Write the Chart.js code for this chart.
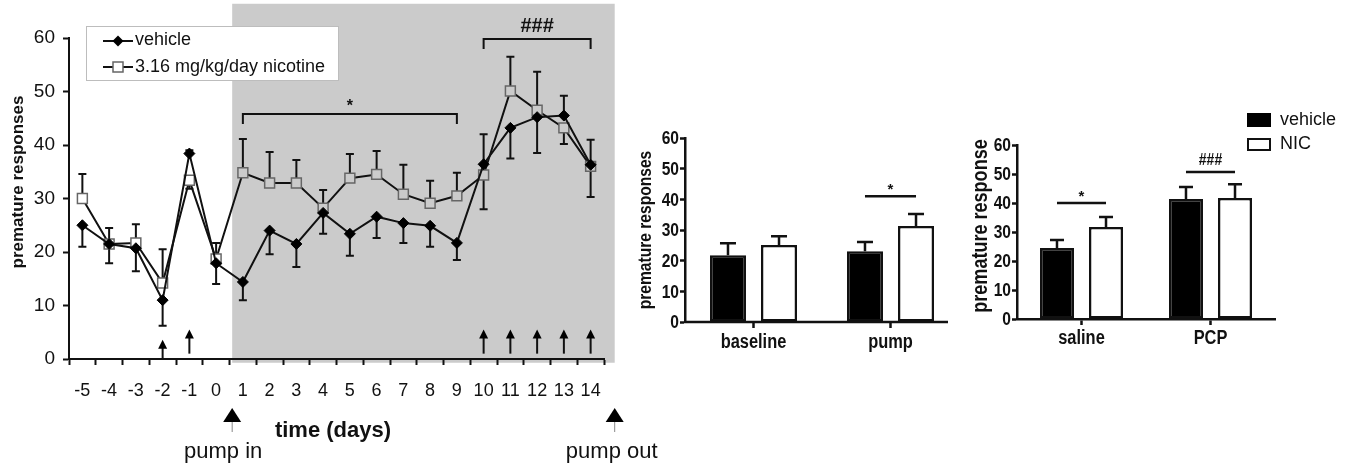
<!DOCTYPE html>
<html>
<head>
<meta charset="utf-8">
<script src="https://cdn.jsdelivr.net/npm/chart.js@4.4.0/dist/chart.umd.min.js"></script>
<style>
  html, body { margin: 0; padding: 0; background: #fff; }
  body { width: 1355px; height: 470px; position: relative; overflow: hidden; }
  canvas { position: absolute; top: 0; }
  #timeChart { left: 0; }
  #pumpChart { left: 630px; }
  #pcpChart { left: 960px; }
</style>
</head>
<body>
<canvas id="timeChart" width="680" height="470"></canvas>
<canvas id="pumpChart" width="330" height="470"></canvas>
<canvas id="pcpChart" width="395" height="470"></canvas>
<script>
// Time course (days relative to pump implant)
const days = [-5, -4, -3, -2, -1, 0, 1, 2, 3, 4, 5, 6, 7, 8, 9, 10, 11, 12, 13, 14];
const vehicleMean = [25, 21.5, 20.7, 11, 38.4, 17.9, 14.4, 24, 21.5, 27.3, 23.4, 26.6, 25.4, 24.9, 21.7, 36.4, 43.2, 45.2, 45.5, 36.3];
const vehicleSem = [4, 3.6, 4.3, 4.8, 0.6, 3.9, 3.4, 4.4, 4.3, 3.9, 4.1, 4, 3.7, 3.9, 3.2, 5.6, 5.7, 6.7, 3.7, 4.7];
const nicotineMean = [30, 21.5, 21.7, 14.2, 33.4, 18.7, 34.8, 32.9, 32.9, 28.2, 33.8, 34.5, 30.8, 29.1, 30.5, 34.4, 50.1, 46.5, 43.2, 36];
const nicotineSem = [4.6, 3, 3.5, 6.3, 1.6, 3, 6.3, 5.8, 4.3, 3.4, 4.5, 4.4, 5.5, 4.2, 4.3, 6.4, 6.4, 7.2, 3, 5.7];
const injectionDays = [-2, -1, 10, 11, 12, 13, 14];
const pumpInDay = 0.6;
const pumpOutDay = 14.9;
const timeSig = [
  { from: 1, to: 9, level: 45.8, label: '*' },
  { from: 10, to: 14, level: 59.8, label: '###' }
];

// Bar panels
const pumpPhases = ['baseline', 'pump'];
const pumpVehicle = [21.8, 23.1];
const pumpVehicleSem = [3.9, 3.0];
const pumpNicotine = [25.1, 31.3];
const pumpNicotineSem = [2.9, 3.9];
const pumpSig = [{ index: 1, level: 41, label: '*' }];

const pcpGroups = ['saline', 'PCP'];
const pcpVehicle = [24.5, 41.4];
const pcpVehicleSem = [2.7, 4.1];
const pcpNicotine = [31.7, 41.7];
const pcpNicotineSem = [3.5, 4.8];
const pcpSig = [
  { index: 0, level: 40, label: '*' },
  { index: 1, level: 50.7, label: '###' }
];

const sans = '"Liberation Sans", Arial, Helvetica, sans-serif';
const squeeze = 0.82; // no condensed font installed, so bar panel text is squeezed
const ink = '#111';
const shadeColor = '#cbcbcb';

function dayPixel(x, d) {
  const p0 = x.getPixelForValue(0);
  const step = x.getPixelForValue(1) - p0;
  return p0 + (d - days[0]) * step;
}

function arrowHead(ctx, cx, tipY, halfW, h) {
  ctx.beginPath();
  ctx.moveTo(cx, tipY);
  ctx.lineTo(cx + halfW, tipY + h);
  ctx.lineTo(cx - halfW, tipY + h);
  ctx.closePath();
  ctx.fill();
}

// text drawn narrow (bold), used for the bar panels
function narrowText(ctx, text, x, y, size, align, rotate) {
  ctx.save();
  ctx.translate(x, y);
  if (rotate) ctx.rotate(-Math.PI / 2);
  ctx.scale(squeeze, 1);
  ctx.font = 'bold ' + size + 'px ' + sans;
  ctx.fillStyle = ink;
  ctx.textAlign = align;
  ctx.textBaseline = 'middle';
  ctx.fillText(text, 0, 0);
  ctx.restore();
}

// Shading, error bars, legend and labels for the time course
const timeAnnotations = {
  id: 'timeAnnotations',
  beforeDraw(chart) {
    const { ctx, scales: { x, y } } = chart;
    const x0 = dayPixel(x, pumpInDay);
    const x1 = dayPixel(x, pumpOutDay);
    const top = y.getPixelForValue(66.4);
    const bottom = y.getPixelForValue(-0.7);
    ctx.save();
    ctx.fillStyle = shadeColor;
    ctx.fillRect(x0, top, x1 - x0, bottom - top);
    ctx.restore();
  },
  beforeDatasetsDraw(chart) {
    const { ctx, scales: { y } } = chart;
    const vMeta = chart.getDatasetMeta(0);
    const nMeta = chart.getDatasetMeta(1);
    ctx.save();
    ctx.strokeStyle = ink;
    ctx.lineWidth = 2;
    days.forEach((d, i) => {
      const vDown = vehicleMean[i] <= nicotineMean[i];
      const bars = [
        [vMeta.data[i], vDown ? vehicleMean[i] - vehicleSem[i] : vehicleMean[i] + vehicleSem[i]],
        [nMeta.data[i], vDown ? nicotineMean[i] + nicotineSem[i] : nicotineMean[i] - nicotineSem[i]]
      ];
      bars.forEach(([pt, end]) => {
        const ey = y.getPixelForValue(end);
        ctx.beginPath();
        ctx.moveTo(pt.x, pt.y);
        ctx.lineTo(pt.x, ey);
        ctx.moveTo(pt.x - 4, ey);
        ctx.lineTo(pt.x + 4, ey);
        ctx.stroke();
      });
    });
    ctx.restore();
  },
  afterDraw(chart) {
    const { ctx, scales: { x, y } } = chart;
    ctx.save();

    // legend box
    ctx.fillStyle = '#fff';
    ctx.fillRect(86, 26, 252, 54);
    ctx.strokeStyle = '#bdbdbd';
    ctx.lineWidth = 1;
    ctx.strokeRect(86.5, 26.5, 252, 54);
    ctx.strokeStyle = ink;
    ctx.lineWidth = 2;
    [41, 67].forEach(ly => {
      ctx.beginPath();
      ctx.moveTo(103, ly);
      ctx.lineTo(133, ly);
      ctx.stroke();
    });
    ctx.fillStyle = '#000';
    ctx.beginPath();
    ctx.moveTo(118, 35.5); ctx.lineTo(123.5, 41); ctx.lineTo(118, 46.5); ctx.lineTo(112.5, 41);
    ctx.closePath();
    ctx.fill();
    ctx.fillStyle = '#fff';
    ctx.fillRect(113, 62, 10, 10);
    ctx.strokeStyle = '#666';
    ctx.lineWidth = 1.5;
    ctx.strokeRect(113, 62, 10, 10);
    ctx.fillStyle = ink;
    ctx.font = '18px ' + sans;
    ctx.textAlign = 'left';
    ctx.textBaseline = 'middle';
    ctx.fillText(chart.data.datasets[0].label, 135, 40);
    ctx.fillText(chart.data.datasets[1].label, 135, 67);

    // significance brackets
    ctx.strokeStyle = ink;
    ctx.lineWidth = 2;
    timeSig.forEach(s => {
      const xa = dayPixel(x, s.from);
      const xb = dayPixel(x, s.to);
      const yl = y.getPixelForValue(s.level);
      ctx.beginPath();
      ctx.moveTo(xa, yl + 10); ctx.lineTo(xa, yl); ctx.lineTo(xb, yl); ctx.lineTo(xb, yl + 10);
      ctx.stroke();
      ctx.textAlign = 'center';
      ctx.textBaseline = 'alphabetic';
      if (s.label === '*') {
        ctx.font = 'bold 16px ' + sans;
        ctx.fillText(s.label, (xa + xb) / 2, yl - 3);
      } else {
        ctx.font = 'bold 20px ' + sans;
        ctx.fillText(s.label, (xa + xb) / 2, yl - 7);
      }
    });

    // injection arrows
    ctx.fillStyle = '#000';
    injectionDays.forEach(d => {
      const ax = dayPixel(x, d);
      const tip = y.getPixelForValue(d === -2 ? 3.6 : 5.5);
      const tail = y.getPixelForValue(d === -2 ? 0 : 1);
      ctx.beginPath();
      ctx.moveTo(ax, tip + 6);
      ctx.lineTo(ax, tail);
      ctx.stroke();
      arrowHead(ctx, ax, tip, 4.5, 9);
    });

    // pump in / pump out markers
    const pin = dayPixel(x, pumpInDay);
    const pout = dayPixel(x, pumpOutDay);
    [pin, pout].forEach(px => {
      ctx.fillStyle = '#000';
      arrowHead(ctx, px, 408, 9, 14);
      ctx.strokeStyle = '#888';
      ctx.lineWidth = 1;
      ctx.beginPath();
      ctx.moveTo(px, 422);
      ctx.lineTo(px, 432);
      ctx.stroke();
    });
    ctx.fillStyle = ink;
    ctx.font = '22px ' + sans;
    ctx.textAlign = 'center';
    ctx.textBaseline = 'alphabetic';
    ctx.fillText('pump in', pin - 9, 458);
    ctx.fillText('pump out', pout - 3, 458);

    ctx.font = 'bold 22px ' + sans;
    ctx.textBaseline = 'middle';
    ctx.fillText('time (days)', 333, 431);

    // y title
    ctx.translate(18, 182);
    ctx.rotate(-Math.PI / 2);
    ctx.font = 'bold 17px ' + sans;
    ctx.fillText('premature responses', 0, 0);
    ctx.restore();
  }
};

new Chart(document.getElementById('timeChart'), {
  type: 'line',
  data: {
    labels: days.map(String),
    datasets: [
      {
        label: 'vehicle',
        data: vehicleMean,
        borderColor: ink,
        borderWidth: 2,
        pointStyle: 'rectRot',
        pointRadius: 5.5,
        pointBackgroundColor: '#000',
        pointBorderColor: '#000',
        pointBorderWidth: 1,
        tension: 0
      },
      {
        label: '3.16 mg/kg/day nicotine',
        data: nicotineMean,
        borderColor: ink,
        borderWidth: 2,
        pointStyle: 'rect',
        pointRadius: 7,
        pointBackgroundColor: days.map(d => (d > pumpInDay && d < pumpOutDay ? shadeColor : '#fff')),
        pointBorderColor: '#666',
        pointBorderWidth: 1.5,
        tension: 0
      }
    ]
  },
  options: {
    responsive: false,
    animation: false,
    layout: { padding: { left: 0, right: 76, top: 38, bottom: 0 } },
    plugins: { legend: { display: false }, tooltip: { enabled: false } },
    scales: {
      x: {
        type: 'category',
        offset: true,
        grid: { offset: true, drawOnChartArea: false, tickLength: 6, tickWidth: 2, tickColor: ink },
        border: { color: ink, width: 2 },
        ticks: { font: { family: sans, size: 18 }, color: ink, padding: 15, autoSkip: false, maxRotation: 0 },
        afterFit: axis => { axis.height = 111; }
      },
      y: {
        min: 0,
        max: 60,
        grid: { drawOnChartArea: false, tickLength: 6, tickWidth: 2, tickColor: ink },
        border: { color: ink, width: 2 },
        ticks: { stepSize: 10, font: { family: sans, size: 19 }, color: ink, padding: 8 },
        afterFit: axis => { axis.width = 69; }
      }
    }
  },
  plugins: [timeAnnotations]
});

// Error bars, significance lines, tick labels and titles for the bar panels
function barAnnotations(id, sems, sigs, p) {
  return {
    id,
    afterDatasetsDraw(chart) {
      const { ctx, chartArea, scales: { x, y } } = chart;
      ctx.save();
      ctx.strokeStyle = ink;
      ctx.lineWidth = 2.5;
      sems.forEach((sem, di) => {
        const meta = chart.getDatasetMeta(di);
        meta.data.forEach((bar, i) => {
          const v = chart.data.datasets[di].data[i];
          const top = y.getPixelForValue(v + sem[i]);
          ctx.beginPath();
          ctx.moveTo(bar.x, bar.y);
          ctx.lineTo(bar.x, top);
          ctx.moveTo(bar.x - p.capHalf, top);
          ctx.lineTo(bar.x + p.capHalf, top);
          ctx.stroke();
        });
      });
      const m0 = chart.getDatasetMeta(0);
      const m1 = chart.getDatasetMeta(1);
      ctx.fillStyle = ink;
      ctx.textAlign = 'center';
      ctx.textBaseline = 'alphabetic';
      sigs.forEach(s => {
        const xa = m0.data[s.index].x;
        const xb = m1.data[s.index].x;
        const yl = y.getPixelForValue(s.level);
        ctx.beginPath();
        ctx.moveTo(xa, yl);
        ctx.lineTo(xb, yl);
        ctx.stroke();
        if (s.label === '*') {
          ctx.font = 'bold 15px ' + sans;
          ctx.fillText(s.label, (xa + xb) / 2, yl - 2);
        } else {
          narrowText(ctx, s.label, (xa + xb) / 2, yl - 12, 17, 'center');
        }
      });
      if (p.baselineEnd) {
        ctx.beginPath();
        ctx.moveTo(chartArea.left - 1, chartArea.bottom);
        ctx.lineTo(p.baselineEnd, chartArea.bottom);
        ctx.stroke();
      }
      if (p.legend) {
        ctx.fillStyle = '#000';
        ctx.fillRect(287, 113, 24, 14);
        ctx.fillStyle = '#fff';
        ctx.lineWidth = 2;
        ctx.fillRect(288, 139, 22, 11);
        ctx.strokeRect(288, 139, 22, 11);
        ctx.fillStyle = ink;
        ctx.font = '18px ' + sans;
        ctx.textAlign = 'left';
        ctx.textBaseline = 'middle';
        ctx.fillText(chart.data.datasets[0].label, 320, 120);
        ctx.fillText(chart.data.datasets[1].label, 320, 144);
      }
      ctx.restore();

      y.ticks.forEach(t => {
        narrowText(ctx, t.label, chartArea.left - 6, y.getPixelForValue(t.value) + 1, 19, 'right');
      });
      chart.data.labels.forEach((label, i) => {
        narrowText(ctx, label, x.getPixelForValue(i), chartArea.bottom + p.labelGap, 20, 'center');
      });
      narrowText(ctx, p.title, p.titleX, p.titleY, p.titleSize, 'center', true);
    }
  };
}

function barConfig(labels, veh, nic, catPct, barPct, padding, yWidth, xHeight, showXBorder, plugin) {
  return {
    type: 'bar',
    data: {
      labels,
      datasets: [
        { label: 'vehicle', data: veh, backgroundColor: '#000', borderColor: ink, borderWidth: 2.5, borderSkipped: false, categoryPercentage: catPct, barPercentage: barPct },
        { label: 'NIC', data: nic, backgroundColor: '#fff', borderColor: ink, borderWidth: 2.5, borderSkipped: false, categoryPercentage: catPct, barPercentage: barPct }
      ]
    },
    options: {
      responsive: false,
      animation: false,
      layout: { padding },
      plugins: { legend: { display: false }, tooltip: { enabled: false } },
      scales: {
        x: {
          grid: { offset: false, drawOnChartArea: false, tickLength: 6, tickWidth: 2.5, tickColor: ink },
          border: { display: showXBorder, color: ink, width: 2.5 },
          ticks: { display: false },
          afterFit: axis => { axis.height = xHeight; }
        },
        y: {
          min: 0,
          max: 60,
          grid: { drawOnChartArea: false, tickLength: 5, tickWidth: 2.5, tickColor: ink },
          border: { color: ink, width: 2.5 },
          ticks: { display: false, stepSize: 10 },
          afterFit: axis => { axis.width = yWidth; }
        }
      }
    },
    plugins: [plugin]
  };
}

new Chart(document.getElementById('pumpChart'), barConfig(
  pumpPhases, pumpVehicle, pumpNicotine, 0.745, 0.706,
  { left: 0, right: 1, top: 138, bottom: 0 }, 55, 148, false,
  barAnnotations('pumpAnnotations', [pumpVehicleSem, pumpNicotineSem], pumpSig, {
    capHalf: 8, title: 'premature responses', titleX: 16, titleY: 230, titleSize: 19,
    baselineEnd: 318, legend: false, labelGap: 20
  })
));

new Chart(document.getElementById('pcpChart'), barConfig(
  pcpGroups, pcpVehicle, pcpNicotine, 0.76, 0.694,
  { left: 0, right: 80, top: 145, bottom: 0 }, 57, 151, true,
  barAnnotations('pcpAnnotations', [pcpVehicleSem, pcpNicotineSem], pcpSig, {
    capHalf: 7, title: 'premature response', titleX: 21, titleY: 226, titleSize: 22,
    baselineEnd: null, legend: true, labelGap: 19
  })
));
</script>
</body>
</html>
